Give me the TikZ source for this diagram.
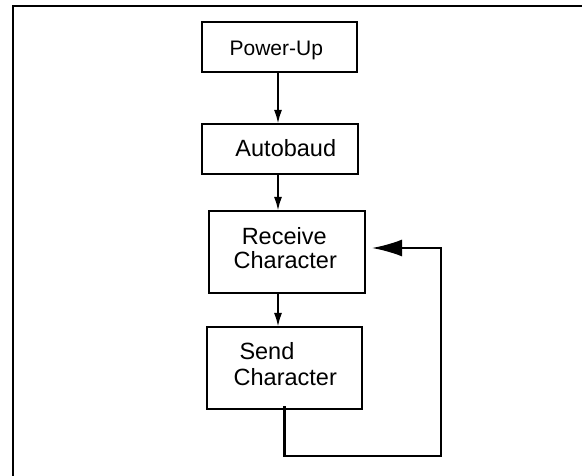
\documentclass[tikz,border=0pt]{standalone}
\usepackage{fontspec}
\setmainfont{Liberation Sans}
\usetikzlibrary{arrows.meta}

\tikzset{
  box/.style={draw, line width=2.1pt, minimum width=#1, inner sep=0pt},
  box/.default=155pt,
  lbl/.style={anchor=base, inner sep=0pt, font=\fontsize{23.5}{24}\selectfont},
  flow/.style={line width=2.1pt, -{Latex[length=14pt,width=8pt]}},
  back/.style={line width=2.1pt, -{Latex[length=30pt,width=17pt]}},
}

\begin{document}
\begin{tikzpicture}[x=1pt,y=-1pt]
  \useasboundingbox (0,0) rectangle (582,476);
  \fill[white] (0,0) rectangle (582,476);

  % outer frame (top and left edges)
  \draw[line width=2.1pt] (13,480) -- (13,5.8) -- (590,5.8);

  % process boxes
  \node[box=155pt, minimum height=50pt] (pu)  at (279.5,47)  {};
  \node[box=156pt, minimum height=50pt] (ab)  at (280,149)   {};
  \node[box=156pt, minimum height=82pt] (rcv) at (287,252)   {};
  \node[box=155pt, minimum height=82pt] (snd) at (284.5,368) {};

  % box texts
  \node[lbl, font=\fontsize{21}{24}\selectfont] (tpu) at (276.3,55.7) {Power-Up};
  \node[lbl] (tab)  at (285.8,156.7) {Autobaud};
  \node[lbl] (trc1) at (284.2,244.3) {Receive};
  \node[lbl] (trc2) at (285.3,268.3) {Character};
  \node[lbl, anchor=base west] (tsn1) at (239.3,359.3) {Send};
  \node[lbl] (tsn2) at (285.3,385)   {Character};

  % vertical flow column
  \coordinate (col) at (278,0);
  \draw[flow] (pu.south -| col)  -- ([yshift=-1pt]ab.north -| col);
  \draw[flow] (ab.south -| col)  -- ([yshift=-1pt]rcv.north -| col);
  \draw[flow] (rcv.south -| col) -- ([yshift=-1pt]snd.north -| col);

  % feedback loop back to receive
  \coordinate (loopr) at (441,456);
  \coordinate (start) at ([yshift=4pt]snd.south);
  \coordinate (tip) at ([xshift=6pt,yshift=4pt]rcv.east);
  \draw[back] (start) |- (loopr) |- (tip);
\end{tikzpicture}
\end{document}
